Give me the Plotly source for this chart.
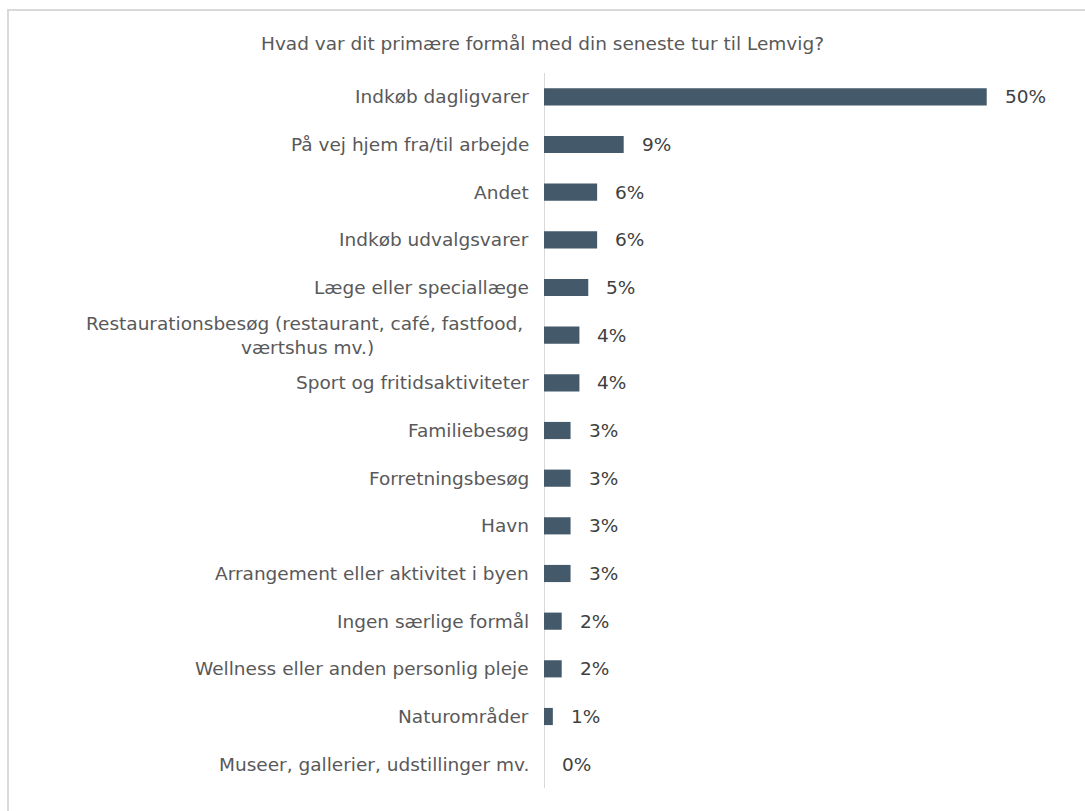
import plotly.graph_objects as go

categories = [
    "Indkøb dagligvarer",
    "På vej hjem fra/til arbejde",
    "Andet",
    "Indkøb udvalgsvarer",
    "Læge eller speciallæge",
    "Restaurationsbesøg (restaurant, café, fastfood,&nbsp;<br>værtshus mv.)",
    "Sport og fritidsaktiviteter",
    "Familiebesøg",
    "Forretningsbesøg",
    "Havn",
    "Arrangement eller aktivitet i byen",
    "Ingen særlige formål",
    "Wellness eller anden personlig pleje",
    "Naturområder",
    "Museer, gallerier, udstillinger mv.",
]
values = [50, 9, 6, 6, 5, 4, 4, 3, 3, 3, 3, 2, 2, 1, 0]
title_text = "Hvad var dit primære formål med din seneste tur til Lemvig?"

W, H = 1085, 811
M_L, M_R, M_T, M_B = 544, 54, 73, 23
X_MAX = 55

BAR_COLOR = "#44596A"
LABEL_COLOR = "#595959"
VALUE_COLOR = "#404040"
LINE_COLOR = "#D9D9D9"
FONT = "DejaVu Sans, Verdana, sans-serif"
FONT_SIZE = 18.5

plot_w = W - M_L - M_R
plot_h = H - M_T - M_B


def px_to_paper_x(px):
    return (px - M_L) / plot_w


def px_to_paper_y(py):
    return (H - M_B - py) / plot_h


ykeys = list(range(len(categories)))

fig = go.Figure(
    go.Bar(
        x=values,
        y=ykeys,
        orientation="h",
        marker=dict(color=BAR_COLOR, line=dict(width=0)),
        width=0.36,
        hoverinfo="skip",
    )
)

# category labels (right-aligned block, lines centred within it)
for yk, cat in zip(ykeys, categories):
    fig.add_annotation(
        x=0, xref="paper", y=yk, yref="y",
        text=cat, showarrow=False,
        xanchor="right", yanchor="middle", align="center",
        xshift=-13,
        font=dict(family=FONT, size=FONT_SIZE, color=LABEL_COLOR),
    )

# value labels beside each bar
for yk, v in zip(ykeys, values):
    fig.add_annotation(
        x=v, xref="x", y=yk, yref="y",
        text=f"{v}%", showarrow=False,
        xanchor="left", yanchor="middle",
        xshift=16,
        font=dict(family=FONT, size=FONT_SIZE, color=VALUE_COLOR),
    )

# chart title
fig.add_annotation(
    x=px_to_paper_x(542), xref="paper", y=px_to_paper_y(43), yref="paper",
    xanchor="center", yanchor="middle",
    text=title_text, showarrow=False,
    font=dict(family=FONT, size=FONT_SIZE, color=LABEL_COLOR),
)

# outer frame
fig.add_shape(
    type="rect", xref="paper", yref="paper",
    x0=px_to_paper_x(8), x1=px_to_paper_x(W + 20),
    y0=px_to_paper_y(H + 20), y1=px_to_paper_y(10),
    line=dict(color=LINE_COLOR, width=2),
    fillcolor="rgba(0,0,0,0)", layer="below",
)

fig.update_layout(
    width=W, height=H,
    margin=dict(l=M_L, r=M_R, t=M_T, b=M_B, pad=0),
    paper_bgcolor="white", plot_bgcolor="white",
    showlegend=False,
    xaxis=dict(range=[0, X_MAX], visible=False, fixedrange=True),
    yaxis=dict(
        range=[len(categories) - 0.5, -0.5],
        showticklabels=False, ticks="", showgrid=False, zeroline=False,
        showline=False, fixedrange=True,
    ),
)

# vertical category axis line at x = 0
fig.add_shape(
    type="line", xref="x", yref="paper",
    x0=0, x1=0, y0=0, y1=1,
    line=dict(color=LINE_COLOR, width=2), layer="below",
)

fig.write_html("out.html")
